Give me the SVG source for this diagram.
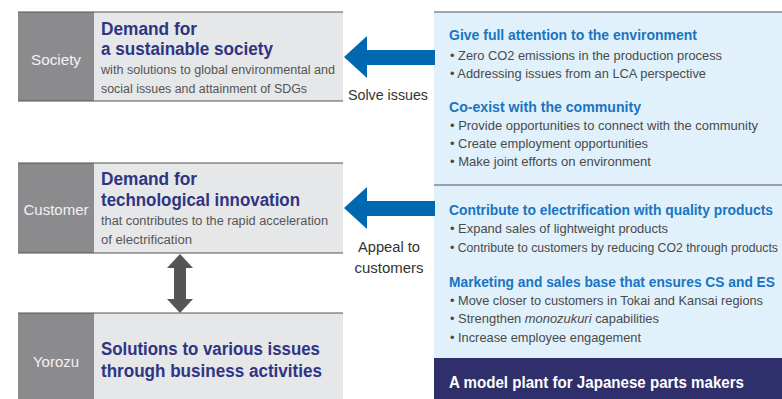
<svg xmlns="http://www.w3.org/2000/svg" width="782" height="399" viewBox="0 0 782 399">
  <style>
    text { font-family: "Liberation Sans", Arial, sans-serif; }
    .lab { fill: #f2f2f2; font-size: 15px; text-anchor: middle; }
    .ttl { fill: #2e3582; font-size: 18px; font-weight: bold; }
    .sub { fill: #555; font-size: 12.5px; }
    .hd { fill: #1a74c0; font-size: 14.5px; font-weight: bold; }
    .bl { fill: #4a4a4a; font-size: 13px; }
    .cap { fill: #333; font-size: 14px; }
    .labcol { fill: #8b8b8d; }
    .body { fill: #e6e7e8; }
    .rule { stroke: #555; stroke-width: 1.2; }
  </style>
  <rect width="782" height="399" fill="#fff"/>

  <!-- right-hand panel -->
  <g id="panel">
    <rect x="434" y="12" width="348" height="387" fill="#e0f1fb"/>
    <line class="rule" x1="434" y1="12" x2="782" y2="12"/>
    <line class="rule" x1="434" y1="185" x2="782" y2="185"/>
    <text class="hd" x="449" y="40" textLength="248" lengthAdjust="spacingAndGlyphs">Give full attention to the environment</text>
    <text class="bl" x="450" y="60" textLength="272" lengthAdjust="spacingAndGlyphs">• Zero CO2 emissions in the production process</text>
    <text class="bl" x="450" y="78" textLength="256" lengthAdjust="spacingAndGlyphs">• Addressing issues from an LCA perspective</text>
    <text class="hd" x="449" y="112" textLength="192" lengthAdjust="spacingAndGlyphs">Co-exist with the community</text>
    <text class="bl" x="450" y="130" textLength="308" lengthAdjust="spacingAndGlyphs">• Provide opportunities to connect with the community</text>
    <text class="bl" x="450" y="148" textLength="198" lengthAdjust="spacingAndGlyphs">• Create employment opportunities</text>
    <text class="bl" x="450" y="166" textLength="201" lengthAdjust="spacingAndGlyphs">• Make joint efforts on environment</text>
    <text class="hd" x="449" y="215" textLength="324" lengthAdjust="spacingAndGlyphs">Contribute to electrification with quality products</text>
    <text class="bl" x="450" y="233" textLength="218" lengthAdjust="spacingAndGlyphs">• Expand sales of lightweight products</text>
    <text class="bl" x="450" y="252" textLength="328" lengthAdjust="spacingAndGlyphs">• Contribute to customers by reducing CO2 through products</text>
    <text class="hd" x="449" y="287" textLength="326" lengthAdjust="spacingAndGlyphs">Marketing and sales base that ensures CS and ES</text>
    <text class="bl" x="450" y="305" textLength="313" lengthAdjust="spacingAndGlyphs">• Move closer to customers in Tokai and Kansai regions</text>
    <text class="bl" x="450" y="323" textLength="209" lengthAdjust="spacingAndGlyphs">• Strengthen <tspan font-style="italic">monozukuri</tspan> capabilities</text>
    <text class="bl" x="450" y="342" textLength="191" lengthAdjust="spacingAndGlyphs">• Increase employee engagement</text>
    <rect x="434" y="358" width="348" height="41" fill="#2f2f6c"/>
    <text x="449" y="388" fill="#fff" font-size="16" font-weight="bold" textLength="295" lengthAdjust="spacingAndGlyphs">A model plant for Japanese parts makers</text>
  </g>

  <!-- Society -->
  <g id="society">
    <rect class="labcol" x="18" y="12" width="76" height="89"/>
    <rect class="body" x="94" y="12" width="249" height="89"/>
    <line class="rule" x1="18" y1="12" x2="343" y2="12"/>
    <line class="rule" x1="18" y1="101" x2="343" y2="101"/>
    <text class="lab" x="56" y="65" textLength="50" lengthAdjust="spacingAndGlyphs">Society</text>
    <text class="ttl" x="101" y="35" textLength="96" lengthAdjust="spacingAndGlyphs">Demand for</text>
    <text class="ttl" x="101" y="55" textLength="172" lengthAdjust="spacingAndGlyphs">a sustainable society</text>
    <text class="sub" x="101" y="74" textLength="234" lengthAdjust="spacingAndGlyphs">with solutions to global environmental and</text>
    <text class="sub" x="101" y="93" textLength="206" lengthAdjust="spacingAndGlyphs">social issues and attainment of SDGs</text>
  </g>

  <!-- Customer -->
  <g id="customer">
    <rect class="labcol" x="18" y="163" width="76" height="90"/>
    <rect class="body" x="94" y="163" width="249" height="90"/>
    <line class="rule" x1="18" y1="163" x2="343" y2="163"/>
    <line class="rule" x1="18" y1="253" x2="343" y2="253"/>
    <text class="lab" x="56" y="215" textLength="65" lengthAdjust="spacingAndGlyphs">Customer</text>
    <text class="ttl" x="101" y="185" textLength="96" lengthAdjust="spacingAndGlyphs">Demand for</text>
    <text class="ttl" x="101" y="206" textLength="199" lengthAdjust="spacingAndGlyphs">technological innovation</text>
    <text class="sub" x="101" y="225" textLength="227" lengthAdjust="spacingAndGlyphs">that contributes to the rapid acceleration</text>
    <text class="sub" x="101" y="244" textLength="91" lengthAdjust="spacingAndGlyphs">of electrification</text>
  </g>

  <!-- Yorozu -->
  <g id="yorozu">
    <rect class="labcol" x="18" y="313" width="76" height="86"/>
    <rect class="body" x="94" y="313" width="249" height="86"/>
    <line class="rule" x1="18" y1="313" x2="343" y2="313"/>
    <text class="lab" x="56" y="367" textLength="46" lengthAdjust="spacingAndGlyphs">Yorozu</text>
    <text class="ttl" x="101" y="355" textLength="219" lengthAdjust="spacingAndGlyphs">Solutions to various issues</text>
    <text class="ttl" x="101" y="377" textLength="221" lengthAdjust="spacingAndGlyphs">through business activities</text>
  </g>

  <!-- connectors -->
  <g id="connectors">
    <polygon fill="#0067b1" points="344,57 367,36 367,50 435,50 435,65 367,65 367,78"/>
    <polygon fill="#0067b1" points="344,208 367,187 367,201 435,201 435,216 367,216 367,229"/>
    <polygon fill="#555" points="180,254 193,268 186,268 186,299 193,299 180,313 167,299 174,299 174,268 167,268"/>
    <text class="cap" x="348" y="100" textLength="80" lengthAdjust="spacingAndGlyphs">Solve issues</text>
    <text class="cap" x="389" y="252" text-anchor="middle" textLength="62" lengthAdjust="spacingAndGlyphs">Appeal to</text>
    <text class="cap" x="389" y="273" text-anchor="middle" textLength="69" lengthAdjust="spacingAndGlyphs">customers</text>
  </g>
</svg>
